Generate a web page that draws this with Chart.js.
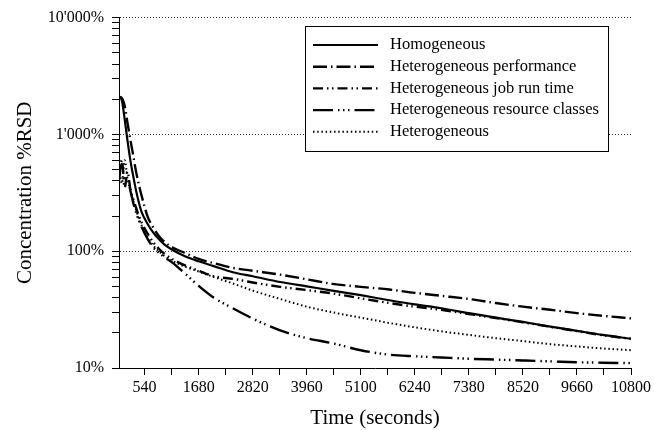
<!DOCTYPE html>
<html>
<head>
<meta charset="utf-8">
<script src="https://cdn.jsdelivr.net/npm/chart.js@4.4.1/dist/chart.umd.min.js"></script>
<style>
  html, body { margin: 0; padding: 0; background: #fff; }
  canvas { display: block; }
</style>
</head>
<body>
<canvas id="rsdChart" width="654" height="430"></canvas>
<script>
// time in seconds
const timeSec = [0, 60, 120, 180, 240, 300, 360, 420, 480, 600, 720, 840, 960, 1140, 1380, 1680, 2000,
  2400, 2820, 3400, 3960, 4500, 5100, 5700, 6240, 6800, 7380, 7950, 8520, 9100, 9660, 10200, 10800];

// concentration %RSD per scenario
const homogeneous = [2100, 1950, 1350, 880, 600, 440, 330, 260, 215, 172, 145, 127, 114, 102, 91, 82, 74.5,
  66, 61, 54.5, 50, 46, 42, 38, 35, 32.5, 29.5, 27, 24.8, 22.6, 20.8, 19.2, 17.8];
const hetPerformance = [2100, 2050, 1750, 1250, 900, 660, 480, 370, 295, 200, 160, 135, 120, 107, 97, 86, 79,
  72, 68, 63, 57.5, 52.5, 49.5, 47, 44, 41.5, 39, 36, 33.5, 31.5, 29.5, 28, 26.6];
const hetJobRunTime = [400, 600, 350, 480, 340, 280, 235, 200, 175, 142, 120, 105, 95, 85, 76, 68, 61,
  58, 54, 49.5, 46.5, 43.5, 39.5, 36, 33.5, 31.5, 29, 26.8, 24.6, 22.5, 20.7, 19.1, 17.8];
const hetResourceClasses = [450, 560, 400, 420, 330, 260, 215, 183, 160, 128, 108, 97, 89, 79, 65, 50.5, 40,
  32.5, 26.5, 21, 18, 16.3, 14.2, 13.0, 12.6, 12.3, 12.0, 11.8, 11.6, 11.4, 11.2, 11.1, 11];
const heterogeneous = [550, 380, 600, 420, 330, 270, 225, 190, 165, 132, 112, 100, 91, 82, 74, 67, 60,
  53, 46, 39, 33.5, 30, 27, 24.3, 22.3, 20.6, 19.2, 18, 17, 16, 15.3, 14.7, 14.2];

const seriesLabels = ['Homogeneous', 'Heterogeneous performance', 'Heterogeneous job run time',
  'Heterogeneous resource classes', 'Heterogeneous'];

// axis ticks
const xTickStep = 570;
const xTickFirst = 540;
const xTickLabels = ['540', '1680', '2820', '3960', '5100', '6240', '7380', '8520', '9660', '10800'];
const yDecades = [10, 100, 1000, 10000];
const yTickLabels = ["10%", "100%", "1'000%", "10'000%"];

const serif = 'Liberation Serif, Times New Roman, serif';

function toPoints(values) {
  return timeSec.map((t, i) => ({ x: t, y: values[i] }));
}

function line(label, values, dash, width) {
  return {
    label: label,
    data: toPoints(values),
    borderColor: '#000',
    backgroundColor: '#000',
    borderWidth: width,
    borderDash: dash,
    borderCapStyle: 'butt',
    pointRadius: 0,
    fill: false,
    cubicInterpolationMode: 'monotone'
  };
}

// legend box drawn inside the plot, like the original
const boxLegend = {
  id: 'boxLegend',
  afterDraw(chart) {
    const c = chart.ctx;
    const left = 305.5, top = 26.5, w = 303, h = 125;
    c.save();
    c.fillStyle = '#fff';
    c.fillRect(left, top, w, h);
    c.strokeStyle = '#000';
    c.lineWidth = 1;
    c.setLineDash([]);
    c.strokeRect(left, top, w, h);
    c.font = '16.5px ' + serif;
    c.textBaseline = 'middle';
    c.fillStyle = '#000';
    chart.data.datasets.forEach((ds, i) => {
      const y = 45 + i * 21.7;
      c.beginPath();
      c.lineWidth = ds.borderWidth;
      c.setLineDash(ds.borderDash);
      c.moveTo(313, y);
      c.lineTo(378, y);
      c.stroke();
      c.setLineDash([]);
      c.fillText(ds.label, 390, y);
    });
    c.restore();
  }
};

const ctx = document.getElementById('rsdChart').getContext('2d');

const rsdChart = new Chart(ctx, {
  type: 'line',
  data: {
    datasets: [
      line(seriesLabels[0], homogeneous, [], 2.2),
      line(seriesLabels[1], hetPerformance, [14, 4, 1.5, 4], 2.4),
      line(seriesLabels[2], hetJobRunTime, [10, 4, 1.5, 3.5, 1.5, 4], 2.4),
      line(seriesLabels[3], hetResourceClasses, [20, 5, 1.5, 3.5, 1.5, 3.5, 1.5, 5], 2.4),
      line(seriesLabels[4], heterogeneous, [1.5, 2.7], 2)
    ]
  },
  options: {
    responsive: false,
    animation: false,
    layout: { padding: { left: 0, right: 21, top: 17, bottom: 0 } },
    plugins: {
      legend: { display: false },
      tooltip: { enabled: false }
    },
    scales: {
      x: {
        type: 'linear',
        min: 0,
        max: 10800,
        afterBuildTicks(scale) {
          const ticks = [];
          for (let v = xTickFirst; v <= 10800; v += xTickStep) ticks.push({ value: v });
          scale.ticks = ticks;
        },
        afterFit(scale) { scale.height = 62; },
        ticks: {
          autoSkip: false,
          maxRotation: 0,
          padding: 3,
          color: '#000',
          font: { family: serif, size: 16 },
          callback(value) {
            const k = (value - xTickFirst) / xTickStep;
            return k % 2 === 0 ? xTickLabels[k / 2] : '';
          }
        },
        grid: { drawOnChartArea: false, tickLength: 7, color: '#000', tickColor: '#000' },
        border: { color: '#000', width: 1 },
        title: {
          display: true,
          text: 'Time (seconds)',
          color: '#000',
          font: { family: serif, size: 21 },
          padding: { top: 0, bottom: -1 }
        }
      },
      y: {
        type: 'logarithmic',
        min: 10,
        max: 10000,
        afterBuildTicks(scale) {
          const ticks = [];
          yDecades.slice(0, -1).forEach(d => {
            for (let m = 1; m < 10; m++) ticks.push({ value: d * m });
          });
          ticks.push({ value: yDecades[yDecades.length - 1] });
          scale.ticks = ticks;
        },
        afterFit(scale) { scale.width = 119; },
        ticks: {
          autoSkip: false,
          padding: 8,
          color: '#000',
          font: { family: serif, size: 16 },
          callback(value) {
            const i = yDecades.indexOf(value);
            return i >= 0 ? yTickLabels[i] : '';
          }
        },
        grid: {
          tickLength: 7,
          tickColor: '#000',
          color(c) {
            const v = c.tick && c.tick.value;
            return (v === 100 || v === 1000 || v === 10000) ? '#333' : 'rgba(0,0,0,0)';
          },
          lineWidth: 1
        },
        // in v4 the grid line dash is read from the border options
        border: { color: '#000', width: 1, dash: [1, 2] },
        title: {
          display: true,
          text: 'Concentration %RSD',
          color: '#000',
          font: { family: serif, size: 21 },
          padding: { top: 13, bottom: 0 }
        }
      }
    }
  },
  plugins: [boxLegend]
});
</script>
</body>
</html>
